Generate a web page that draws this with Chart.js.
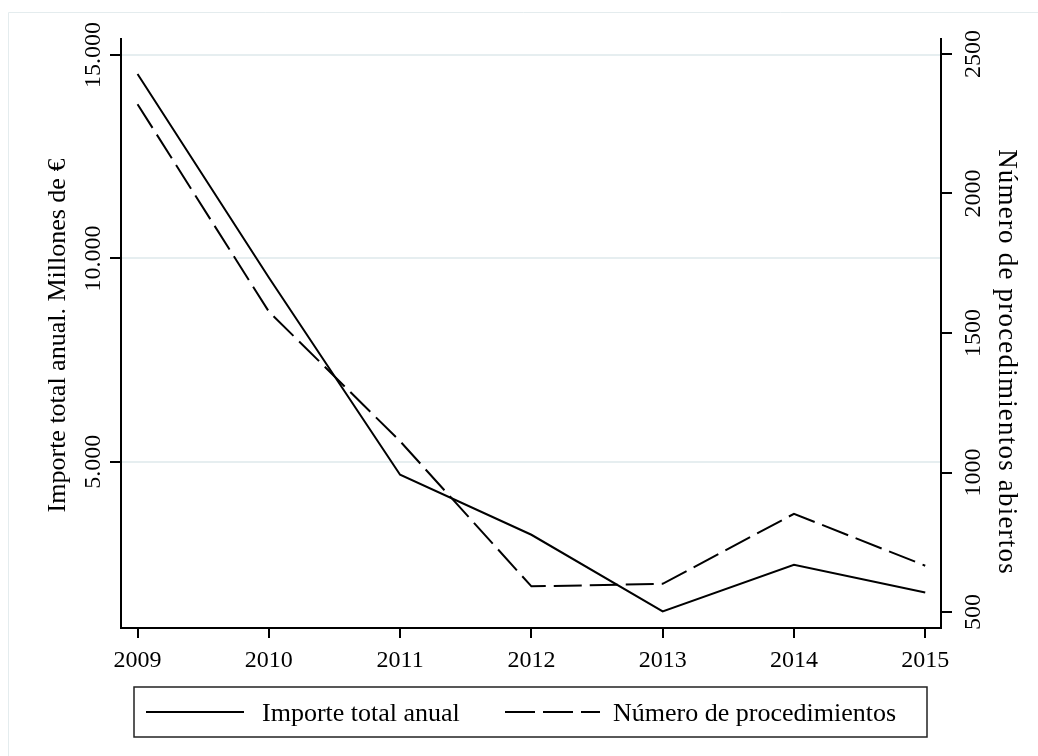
<!DOCTYPE html>
<html>
<head>
<meta charset="utf-8">
<script src="https://cdn.jsdelivr.net/npm/chart.js@4.4.1/dist/chart.umd.min.js"></script>
<style>
  html, body { margin: 0; padding: 0; background: #fff; }
  canvas { display: block; }
</style>
</head>
<body>
<canvas id="chart" width="1038" height="756"></canvas>
<script>
// data
const years = [2009, 2010, 2011, 2012, 2013, 2014, 2015];
const importe = [14533, 9531, 4681, 3206, 1322, 2469, 1789];          // millones de €
const procedimientos = [2320, 1577, 1112, 592, 601, 852, 666];       // número

const leftTicks = [5000, 10000, 15000];
const rightTicks = [500, 1000, 1500, 2000, 2500];

const leftTitle = 'Importe total anual. Millones de €';
const rightTitle = 'Número de procedimientos abiertos';
const legendLabels = ['Importe total anual', 'Número de procedimientos'];

const serif = '"Liberation Serif", "Times New Roman", serif';
const dash = [28, 8];

// 15000 -> "15.000"
function fmtEs(v) {
    return String(v).replace(/\B(?=(\d{3})+(?!\d))/g, '.');
}

const decor = {
    id: 'decor',
    beforeDraw(chart) {
        const ctx = chart.ctx;
        ctx.save();
        ctx.fillStyle = '#fff';
        ctx.fillRect(0, 0, chart.width, chart.height);
        // faint outer frame
        ctx.strokeStyle = '#e4ecee';
        ctx.lineWidth = 1;
        ctx.beginPath();
        ctx.moveTo(8.5, chart.height);
        ctx.lineTo(8.5, 12.5);
        ctx.lineTo(chart.width, 12.5);
        ctx.stroke();
        ctx.restore();
    },
    afterDraw(chart) {
        const ctx = chart.ctx;
        const area = chart.chartArea;
        const yL = chart.scales.y;
        const yR = chart.scales.y1;
        ctx.save();
        ctx.fillStyle = '#000';

        // vertical tick labels on both y axes
        ctx.font = '24px ' + serif;
        ctx.textAlign = 'center';
        ctx.textBaseline = 'alphabetic';
        leftTicks.forEach(v => {
            ctx.save();
            ctx.translate(100, yL.getPixelForValue(v));
            ctx.rotate(-Math.PI / 2);
            ctx.fillText(fmtEs(v), 0, 0);
            ctx.restore();
        });
        rightTicks.forEach(v => {
            ctx.save();
            ctx.translate(980, yR.getPixelForValue(v));
            ctx.rotate(-Math.PI / 2);
            ctx.fillText(String(v), 0, 0);
            ctx.restore();
        });

        // axis titles
        const midY = (area.top + area.bottom) / 2;
        ctx.font = '26px ' + serif;
        ctx.save();
        ctx.translate(65, midY + 2);
        ctx.rotate(-Math.PI / 2);
        ctx.fillText(leftTitle, 0, 0);
        ctx.restore();
        ctx.save();
        ctx.font = '27px ' + serif;
        ctx.translate(999, 362);
        ctx.rotate(Math.PI / 2);
        ctx.letterSpacing = '1.2px';
        ctx.fillText(rightTitle, 0, 0);
        ctx.restore();

        // legend box
        ctx.strokeStyle = '#222';
        ctx.lineWidth = 1.5;
        ctx.strokeRect(134, 687, 793, 50);
        ctx.strokeStyle = '#000';
        ctx.lineWidth = 2;
        ctx.beginPath();
        ctx.moveTo(146, 712);
        ctx.lineTo(244, 712);
        ctx.stroke();
        ctx.setLineDash([30, 8]);
        ctx.beginPath();
        ctx.moveTo(505, 712);
        ctx.lineTo(600, 712);
        ctx.stroke();
        ctx.setLineDash([]);
        ctx.textAlign = 'left';
        ctx.textBaseline = 'middle';
        ctx.fillText(legendLabels[0], 262, 714);
        ctx.fillText(legendLabels[1], 613, 714);

        ctx.restore();
    }
};

const ctx = document.getElementById('chart').getContext('2d');
const chart = new Chart(ctx, {
    type: 'line',
    data: {
        datasets: [
            {
                label: legendLabels[0],
                data: years.map((yr, i) => ({ x: yr, y: importe[i] })),
                yAxisID: 'y',
                borderColor: '#000',
                borderWidth: 2,
                pointRadius: 0,
                tension: 0,
                fill: false
            },
            {
                label: legendLabels[1],
                data: years.map((yr, i) => ({ x: yr, y: procedimientos[i] })),
                yAxisID: 'y1',
                borderColor: '#000',
                borderWidth: 2,
                borderDash: dash,
                pointRadius: 0,
                tension: 0,
                fill: false
            }
        ]
    },
    options: {
        responsive: false,
        animation: false,
        layout: { padding: { top: 39, left: 0, right: 0, bottom: 0 } },
        plugins: {
            legend: { display: false },
            tooltip: { enabled: false }
        },
        scales: {
            x: {
                type: 'linear',
                min: 2008.874,
                max: 2015.12,
                afterBuildTicks: s => { s.ticks = years.map(v => ({ value: v })); },
                afterFit: s => { s.height = 128; },
                grid: {
                    drawOnChartArea: false,
                    drawTicks: true,
                    tickLength: 10,
                    tickColor: '#000',
                    lineWidth: 2
                },
                border: { display: true, color: '#000', width: 2 },
                ticks: {
                    color: '#000',
                    padding: 8,
                    maxRotation: 0,
                    font: { family: serif, size: 24 },
                    callback: v => String(v)
                }
            },
            y: {
                position: 'left',
                min: 914,
                max: 15393,
                afterBuildTicks: s => { s.ticks = leftTicks.map(v => ({ value: v })); },
                afterFit: s => { s.width = 121; },
                grid: {
                    color: '#e6eef0',
                    lineWidth: 2,
                    drawTicks: true,
                    tickLength: 11,
                    tickColor: '#000'
                },
                border: { display: true, color: '#000', width: 2 },
                ticks: { display: false }
            },
            y1: {
                position: 'right',
                min: 442.7,
                max: 2553.7,
                afterBuildTicks: s => { s.ticks = rightTicks.map(v => ({ value: v })); },
                afterFit: s => { s.width = 97; },
                grid: {
                    drawOnChartArea: false,
                    drawTicks: true,
                    tickLength: 11,
                    tickColor: '#000',
                    lineWidth: 2
                },
                border: { display: true, color: '#000', width: 2 },
                ticks: { display: false }
            }
        }
    },
    plugins: [decor]
});
</script>
</body>
</html>
